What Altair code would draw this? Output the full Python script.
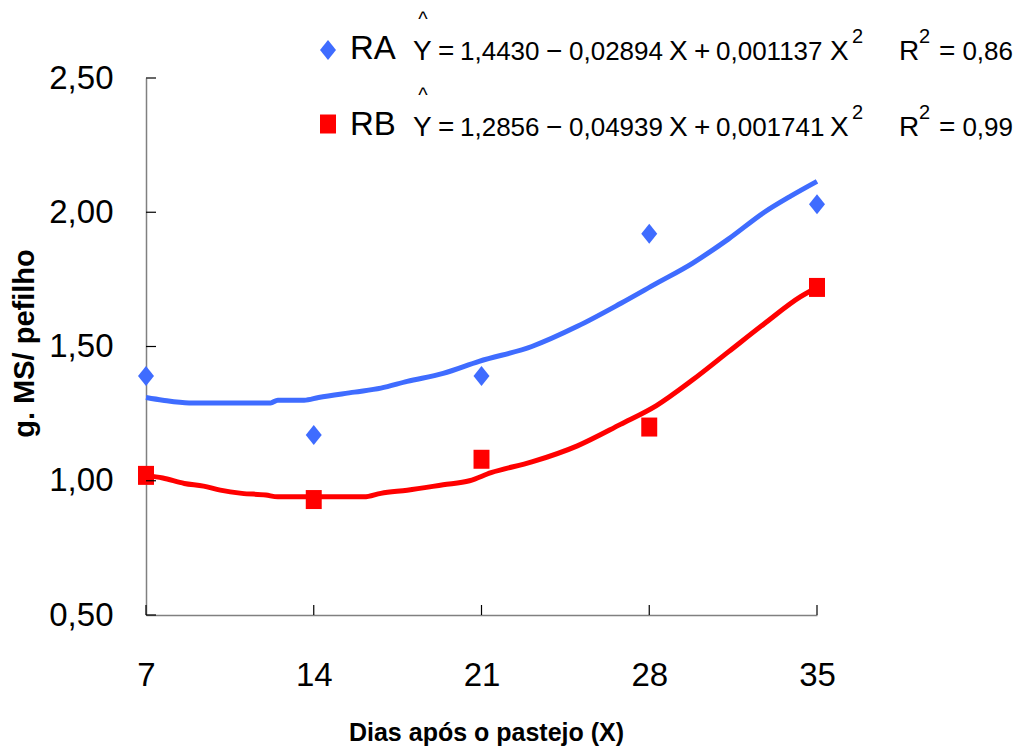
import altair as alt
import pandas as pd

# ---- data ----
days = [7, 14, 21, 28, 35]
ra_obs = [1.39, 1.17, 1.39, 1.92, 2.03]
rb_obs = [1.02, 0.93, 1.08, 1.20, 1.72]

ra_curve_x = [7, 7.7, 8.8, 12.2, 12.5, 13.6, 14.2, 15.7, 16.8, 17.9, 19.4, 20.9,
              23.1, 25.0, 26.8, 28.3, 29.8, 31.3, 32.8, 33.9, 35]
ra_curve_y = [1.31, 1.30, 1.29, 1.29, 1.30, 1.30, 1.31, 1.33, 1.345, 1.37, 1.40, 1.445,
              1.50, 1.575, 1.66, 1.735, 1.81, 1.90, 2.00, 2.06, 2.115]

rb_curve_x = [7, 7.7, 8.6, 9.4, 10.1, 11.0, 12.0, 12.5, 16.1, 16.8, 17.9, 19.4, 20.5,
              21.4, 23.1, 25.0, 26.8, 28.3, 29.8, 31.3, 32.8, 34.3, 35]
rb_curve_y = [1.02, 1.01, 0.99, 0.98, 0.965, 0.953, 0.947, 0.94, 0.94, 0.953, 0.965,
              0.985, 1.00, 1.03, 1.07, 1.13, 1.21, 1.28, 1.375, 1.48, 1.585, 1.685, 1.72]

x_ticks = [7, 14, 21, 28, 35]
y_ticks = [0.5, 1.0, 1.5, 2.0, 2.5]

series_names = ["RA", "RB"]
# equation tokens per series: Y = a − b X + c X² ; R² = r
eq_tokens = [
    ["Y", "=", "1,4430", "\u2212", "0,02894", "X", "+", "0,001137", "X"],
    ["Y", "=", "1,2856", "\u2212", "0,04939", "X", "+", "0,001741", "X"],
]
r2_values = ["0,86", "0,99"]

# ---- layout / style (pixels) ----
BLUE = "#3F6CFF"
RED = "#FF0000"
DIAMOND = "M0,-1L0.8,0L0,1L-0.8,0Z"
SQUARE = "M-0.84,-1L0.84,-1L0.84,1L-0.84,1Z"
W, H = 671, 537
LEFT, TOP = 146, 78
FONT = "Liberation Sans"
token_left = [413, 438, 460, 546, 569, 669, 694, 716, 830]
token_size = [28, 28, 26, 28, 26, 28, 28, 26, 28]

obs = pd.DataFrame({"x": days, "RA": ra_obs, "RB": rb_obs})
ra_fit = pd.DataFrame({"x": ra_curve_x, "y": ra_curve_y})
rb_fit = pd.DataFrame({"x": rb_curve_x, "y": rb_curve_y})

xs = alt.Scale(domain=[7, 35], nice=False, zero=False)
ys = alt.Scale(domain=[0.5, 2.5], nice=False, zero=False)

x_axis = alt.Axis(values=x_ticks, ticks=False, grid=False, domainColor="#808080",
                  domainWidth=1.5, labelFont=FONT, labelFontSize=33, labelColor="black",
                  labelPadding=44, title="Dias após o pastejo (X)", titleFont=FONT,
                  titleFontSize=25, titleFontWeight="bold", titleColor="black",
                  titleX=340, titleY=117, titleAlign="center", titleBaseline="middle",
                  labelFlush=False)
y_axis = alt.Axis(values=y_ticks, ticks=False, grid=False, domainColor="#808080",
                  domainWidth=1.5, labelFont=FONT, labelFontSize=33, labelColor="black",
                  labelPadding=33, labelExpr="replace(format(datum.value, '.2f'), '.', ',')",
                  title="g. MS/ pefilho", titleFont=FONT, titleFontSize=29,
                  titleFontWeight="bold", titleColor="black", titleX=-122, titleY=265,
                  titleAlign="center", titleBaseline="middle", labelFlush=False)

ra_line = alt.Chart(ra_fit).mark_line(color=BLUE, strokeWidth=5, interpolate="monotone").encode(
    x=alt.X("x:Q", scale=xs, axis=x_axis), y=alt.Y("y:Q", scale=ys, axis=y_axis))
rb_line = alt.Chart(rb_fit).mark_line(color=RED, strokeWidth=5, interpolate="monotone").encode(
    x=alt.X("x:Q", scale=xs), y=alt.Y("y:Q", scale=ys))

ra_pts = alt.Chart(obs).mark_point(shape=DIAMOND, size=400, filled=True, opacity=1,
                                   color=BLUE).encode(
    x=alt.X("x:Q", scale=xs), y=alt.Y("RA:Q", scale=ys))
rb_pts = alt.Chart(obs).mark_point(shape=SQUARE, size=361, filled=True, opacity=1,
                                   color=RED).encode(
    x=alt.X("x:Q", scale=xs), y=alt.Y("RB:Q", scale=ys))

ytick_df = pd.DataFrame({"v": y_ticks})
xtick_df = pd.DataFrame({"v": x_ticks})
ytick_marks = alt.Chart(ytick_df).mark_rule(color="black", strokeWidth=1.2).encode(
    y=alt.Y("v:Q", scale=ys), x=alt.value(0), x2=alt.value(10))
xtick_marks = alt.Chart(xtick_df).mark_rule(color="black", strokeWidth=1.2).encode(
    x=alt.X("v:Q", scale=xs), y=alt.value(H), y2=alt.value(H - 10))

one = pd.DataFrame({"_": [0]})


def txt(text, px, py, size, align="left", baseline="alphabetic"):
    return alt.Chart(one).mark_text(text=text, font=FONT, fontSize=size, align=align,
                                    baseline=baseline, color="black").encode(
        x=alt.value(px - LEFT), y=alt.value(py - TOP))


legend_layers = []
rows = [(60, BLUE, DIAMOND, 400, 50), (136, RED, SQUARE, 361, 124)]
for i, (base_y, col, shp, sz, sym_y) in enumerate(rows):
    legend_layers.append(
        alt.Chart(one).mark_point(shape=shp, size=sz, filled=True, opacity=1, color=col).encode(
            x=alt.value(328 - LEFT), y=alt.value(sym_y - TOP)))
    legend_layers.append(txt(series_names[i], 350, base_y - 1, 33))
    legend_layers.append(txt("^", 423, base_y - 40, 20, align="center", baseline="middle"))
    for tok, lx, fs in zip(eq_tokens[i], token_left, token_size):
        legend_layers.append(txt(tok, lx, base_y, fs))
    legend_layers.append(txt("2", 852, base_y - 17, 20))
    legend_layers.append(txt("R", 899, base_y, 28))
    legend_layers.append(txt("2", 919, base_y - 17, 20))
    legend_layers.append(txt("=", 939, base_y, 28))
    legend_layers.append(txt(r2_values[i], 1013, base_y, 26, align="right"))

chart = alt.layer(ra_line, rb_line, ra_pts, rb_pts, ytick_marks, xtick_marks,
                  *legend_layers).properties(
    width=W, height=H, background="white",
    autosize=alt.AutoSizeParams(type="none"),
    padding={"left": LEFT, "top": TOP, "right": 1023 - LEFT - W, "bottom": 751 - TOP - H},
).configure_view(strokeWidth=0)

chart.save("out.html", embed_options={"renderer": "svg", "actions": False})
